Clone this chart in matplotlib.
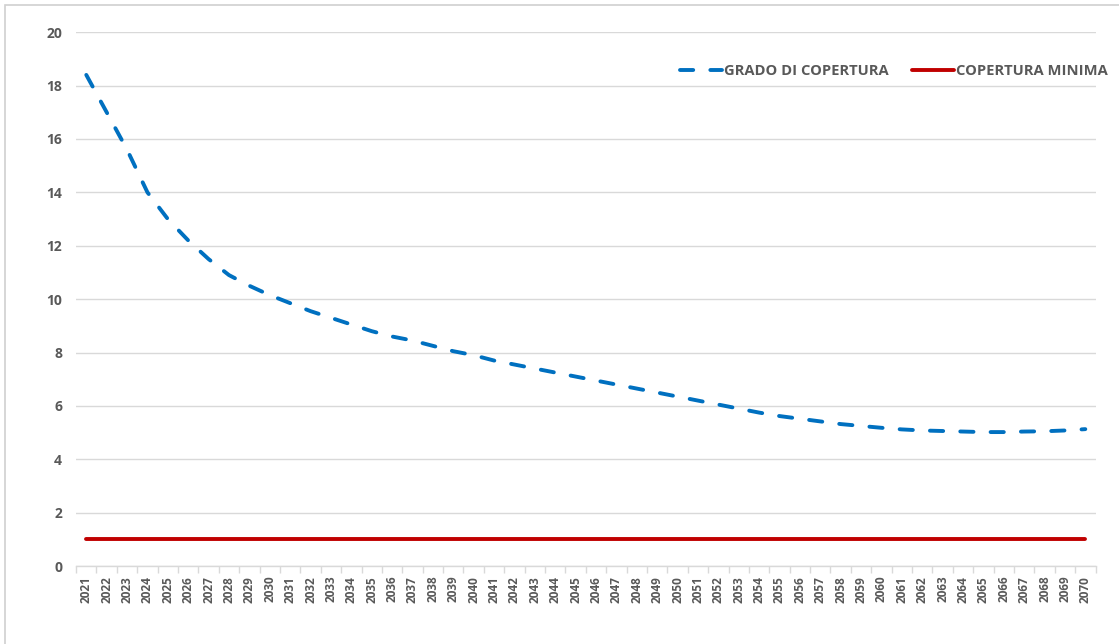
import matplotlib
matplotlib.use("Agg")
import matplotlib.pyplot as plt
from matplotlib.patches import Rectangle
import numpy as np

# data
years = list(range(2021, 2071))
grado_copertura = [
    18.4, 17.0, 15.6, 14.0, 13.0, 12.2, 11.5, 10.9, 10.5, 10.15,
    9.85, 9.55, 9.3, 9.05, 8.8, 8.6, 8.45, 8.25, 8.05, 7.9,
    7.7, 7.55, 7.4, 7.25, 7.1, 6.95, 6.8, 6.65, 6.5, 6.35,
    6.2, 6.05, 5.9, 5.75, 5.62, 5.52, 5.42, 5.32, 5.25, 5.18,
    5.12, 5.08, 5.06, 5.04, 5.02, 5.02, 5.04, 5.05, 5.08, 5.13,
]
copertura_minima = [1.0] * len(years)
y_ticks = [0, 2, 4, 6, 8, 10, 12, 14, 16, 18, 20]

label_color = "#595959"
grid_color = "#d9d9d9"
plt.rcParams["font.family"] = ["Open Sans", "DejaVu Sans"]

fig = plt.figure(figsize=(11.19, 6.44), dpi=100)
ax = fig.add_axes([0.068, 0.121, 0.911, 0.829])

# light frame round the chart area
fig.patches.append(Rectangle((5 / 1119, -0.1), 1.2, 1 - 5 / 644 + 0.1,
                             transform=fig.transFigure, fill=False,
                             edgecolor="#d0d0d0", linewidth=1.2))

x = np.arange(len(years))
ax.plot(x, grado_copertura, color="#0070C0", linewidth=2.8,
        linestyle=(0, (3.4, 4.4)), dash_capstyle="round",
        label="GRADO DI COPERTURA", zorder=3)
ax.plot(x, copertura_minima, color="#C00000", linewidth=2.8,
        solid_capstyle="round", label="COPERTURA MINIMA", zorder=3)

ax.set_xlim(-0.5, len(years) - 0.5)
ax.set_ylim(0, 20)
ax.set_yticks(y_ticks)
ax.set_yticklabels([str(v) for v in y_ticks], fontsize=10, fontweight="bold",
                   color=label_color)
ax.set_xticks(x)
ax.set_xticklabels([str(y) for y in years], rotation=90, fontsize=8.5,
                   fontweight="bold", color=label_color)
ax.set_xticks(np.arange(-0.5, len(years)), minor=True)
ax.tick_params(axis="x", which="major", length=0, pad=7)
ax.tick_params(axis="x", which="minor", length=5, color=grid_color, width=1)
ax.tick_params(axis="y", length=0, pad=10)

ax.grid(axis="y", color=grid_color, linewidth=1)
ax.set_axisbelow(True)
for side in ["top", "right", "left"]:
    ax.spines[side].set_visible(False)
ax.spines["bottom"].set_color(grid_color)
ax.spines["bottom"].set_linewidth(1)

leg = ax.legend(loc="upper right", bbox_to_anchor=(1.025, 0.965), ncol=2,
                frameon=False, handlelength=2.85, handletextpad=0.15,
                columnspacing=1.55,
                prop={"weight": "bold", "size": 10.6})
for t in leg.get_texts():
    t.set_color(label_color)

fig.savefig("out.png", dpi=100, facecolor="white")
